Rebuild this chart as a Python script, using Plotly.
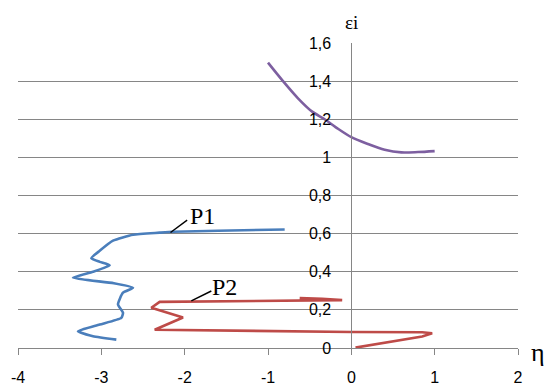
import plotly.graph_objects as go

# Series data (eta, eps_i)
p1_x = [-2.82, -3.10, -3.28, -3.02, -2.76, -2.74, -2.80, -2.74, -2.62, -2.85, -3.34,
        -3.10, -2.90, -3.02, -3.12, -3.02, -2.86, -2.62, -2.30, -2.14, -1.60, -0.80]
p1_y = [0.044, 0.062, 0.088, 0.123, 0.158, 0.185, 0.229, 0.290, 0.316, 0.340, 0.369,
        0.400, 0.434, 0.452, 0.471, 0.510, 0.563, 0.594, 0.605, 0.610, 0.615, 0.622]

p2_x = [0.05, 0.50, 0.85, 0.97, 0.85, 0.00, -1.00, -2.00, -2.36, -2.02, -2.40, -2.30,
        -1.50, -0.60, -0.11, -0.35, -0.62]
p2_y = [0.002, 0.035, 0.060, 0.077, 0.083, 0.084, 0.089, 0.094, 0.096, 0.160, 0.211, 0.242,
        0.246, 0.249, 0.251, 0.258, 0.262]

p3_x = [-1.00, -0.82, -0.64, -0.47, -0.32, -0.16, 0.00, 0.20, 0.40, 0.60, 0.80, 1.00]
p3_y = [1.497, 1.400, 1.310, 1.240, 1.200, 1.150, 1.106, 1.070, 1.040, 1.026, 1.028, 1.033]

x_ticks = [-4, -3, -2, -1, 0, 1, 2]
x_tick_text = ["-4", "-3", "-2", "-1", "0", "1", "2"]
y_ticks = [0, 0.2, 0.4, 0.6, 0.8, 1.0, 1.2, 1.4, 1.6]

labels = ["P1", "P2"]
label_pos = [(-1.96, 0.69), (-1.70, 0.32)]
leader_from = [(-2.17, 0.606), (-1.92, 0.247)]
leader_to = [(-1.97, 0.671), (-1.68, 0.299)]

GRID = "#868686"

fig = go.Figure()
fig.add_trace(go.Scatter(x=p1_x, y=p1_y, mode="lines",
                         line=dict(color="#4A7EBB", width=2.6, shape="spline", smoothing=0.5)))
fig.add_trace(go.Scatter(x=p2_x, y=p2_y, mode="lines",
                         line=dict(color="#BE4B48", width=2.6)))
fig.add_trace(go.Scatter(x=p3_x, y=p3_y, mode="lines",
                         line=dict(color="#7D5FA0", width=2.6, shape="spline", smoothing=0.8)))

for (lx, ly), (fx, fy), (tx, ty), t in zip(label_pos, leader_from, leader_to, labels):
    fig.add_shape(type="line", x0=fx, y0=fy, x1=tx, y1=ty, xref="x", yref="y",
                  line=dict(color="black", width=1.4))
    fig.add_annotation(x=lx, y=ly, text=t, showarrow=False, xanchor="left", yanchor="middle",
                       font=dict(family="Liberation Serif", size=24, color="black"))

fig.add_annotation(x=0, y=1.0, xref="x", yref="paper", yshift=21, text="εi", showarrow=False,
                   xanchor="center", yanchor="middle",
                   font=dict(family="Liberation Serif", size=19, color="black"))
fig.add_annotation(x=1.0, y=0, xref="paper", yref="paper", xshift=20, yshift=-4, text="η",
                   showarrow=False, xanchor="center", yanchor="middle",
                   font=dict(family="Liberation Serif", size=26, color="black"))

fig.update_layout(
    width=545, height=385,
    margin=dict(l=18, r=27, t=43, b=37, autoexpand=False),
    paper_bgcolor="white", plot_bgcolor="white",
    showlegend=False,
    separators=", ",
    font=dict(family="Liberation Sans", size=16, color="black"),
    xaxis=dict(range=[-4, 2], tickvals=x_ticks, ticktext=x_tick_text, automargin=False,
               showgrid=False, zeroline=False, showline=True, linecolor=GRID, linewidth=1,
               ticks="outside", ticklen=6, tickcolor=GRID, ticklabelstandoff=9),
    yaxis=dict(range=[0, 1.6], tickvals=y_ticks, tickformat=".1~f", automargin=False,
               showgrid=True, gridcolor=GRID, gridwidth=1, zeroline=False,
               anchor="free", position=4 / 6, showline=True, linecolor=GRID, linewidth=1,
               ticks="", ticklabelstandoff=17),
)

fig.write_html("out.html", post_script="document.body.style.margin='0';",
               config={"displayModeBar": False})
